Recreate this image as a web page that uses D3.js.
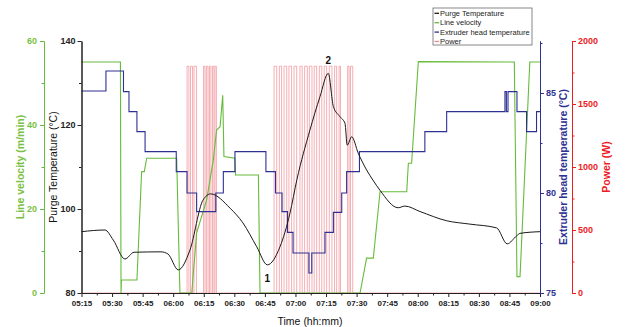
<!DOCTYPE html>
<html>
<head>
<meta charset="utf-8">
<script src="https://cdn.jsdelivr.net/npm/d3@7"></script>
<style>
  body { margin: 0; background: #fff; }
  svg { font-family: "Liberation Sans", Arial, sans-serif; }
</style>
</head>
<body>
<svg id="chart" width="625" height="327"></svg>
<script>
// purge temperature (°C)
const purgeTimes = ["05:15","05:26.5","05:30.6","05:36.3","05:40.8","05:54","05:57.4","06:02.5","06:08.2","06:14.6","06:18.4",
  "06:27.9","06:34.2","06:41","06:46.2","06:52.4","06:57.3","07:00.7","07:07.1","07:12","07:16.1","07:18.6","07:21.8",
  "07:24.3","07:25.4","07:27.6","07:30.8","07:34.9","07:38","07:41.4","07:50.4","07:53.7","08:01.1","08:14.2","08:25.6",
  "08:38.7","08:43.9","08:48.5","08:50.2","09:00"];
const purgeValues = [94.6,95.0,92.6,88.1,89.7,89.8,89.3,85.5,90.2,102.1,103.6,
  100.2,96.7,91.0,86.7,91.0,99.0,107.0,118.8,126.7,132.3,124.4,122.0,
  120.4,115.2,117.2,113.3,109.3,106.9,104.5,100.3,100.7,99.4,97.2,96.4,
  95.5,91.7,93.6,94.2,94.6];

// line velocity (m/min)
const velTimes = ["05:15","05:34.1","05:34.4","05:34.6","05:42.2","05:44.5","05:45.8","05:47","06:01.7","06:03.3","06:09.1",
  "06:11.5","06:16.4","06:19.7","06:21.3","06:23","06:24.3","06:24.9","06:30.3","06:30.6","06:41.8","06:42.6","07:31.7",
  "07:34.9","07:38.2","07:41.5","07:54.6","07:55.4","07:57","08:00.3","08:47.4","08:48.7","08:50.2","08:55","09:00"];
const velValues = [55,55,0,3.1,3.1,28.9,28.9,32.1,32.1,0,0,
  14.3,22.1,31.7,38.8,39.6,47.1,32.5,32.1,28.1,28.1,0,0,
  8.3,8.3,24.1,24.1,30.9,30.9,55.1,55,3.9,3.9,55,55];

// extruder head temperature (°C), stepped
const extTimes = ["05:15","05:27","05:35.6","05:38.3","05:42.2","05:46.2","06:01.5","06:06.8","06:11.5","06:20.9","06:24.6",
  "06:30.3","06:45.5","06:50.2","06:53.4","06:56.1","06:58.8","07:06.6","07:08","07:14.5","07:18.6","07:22.7","07:25.1",
  "07:31.4","08:03.5","08:14.2","08:42.8","08:43.5","08:44.3","08:48.7","08:53.4","08:58.3","09:00"];
const extValues = [85.1,86.1,85.07,84.07,83.07,82.07,81.07,80.0,79.07,80.0,81.07,
  82.07,81.07,80.0,79.07,78.03,77.0,76.0,77.0,78.03,79.03,80.0,81.07,
  82.07,83.07,84.07,85.07,84.07,85.07,84.07,83.07,84.07,84.07];

// power (W), switching times
const powerTimes = ["05:15","06:06.8","06:07.7","06:08.5","06:09.5","06:10.2","06:11.4","06:14.9","06:15.6","06:16.3","06:17.1",
  "06:17.8","06:18.5","06:19.3","06:20","06:20.5","06:21.2",
  "06:49.5","06:50.8","06:52.1","06:53.2","06:54.4","06:55.7","06:56.8","06:58.1","06:59.3","07:00.6","07:02.2","07:03.3",
  "07:04.5","07:05.8","07:06.8","07:08.1","07:09.2","07:10.4","07:11.7","07:12.9","07:14.1","07:15.3","07:16.6","07:17.9",
  "07:19.2","07:20.2","07:21.4","07:22.1","07:25.6","07:26.3","07:27","07:28.1","09:00"];
const powerValues = [0,1800,0,1800,0,1800,0,1800,0,1800,0,
  1800,0,1800,0,1800,0,
  1800,0,1800,0,1800,0,1800,0,1800,0,1800,0,
  1800,0,1800,0,1800,0,1800,0,1800,0,1800,0,
  1800,0,1800,0,1800,0,1800,0,0];

const legendNames = ["Purge Temperature","Line velocity","Extruder head temperature","Power"];
const purgeTicks = [80,100,120,140], purgeMinor = [90,110,130];
const velTicks = [0,20,40,60], velMinor = [10,30,50];
const extTicks = [75,80,85], extMinor = [77.5,82.5,87.5];
const powerTicks = [0,500,1000,1500,2000], powerMinor = [250,750,1250,1750];

const colBlack = "#1a1a1a", colGreen = "#66bb3c", colBlue = "#2e3192", colRed = "#ed1c24";
const colGreenText = "#7ac143", colPower = "#f08890";

function t(s) {
  const [h, m] = s.split(":");
  return new Date(2000, 0, 1, +h, 0, 0, Math.round(+m * 60000));
}

const svg = d3.select("#chart");
const L = 81.5, R = 540, T = 41, B = 293;

const x = d3.scaleTime().domain([t("05:15"), t("09:00")]).range([L, R]);
const yPurge = d3.scaleLinear().domain([80, 140]).range([B, T]);
const yVel = d3.scaleLinear().domain([0, 60]).range([B, T]);
const yExt = d3.scaleLinear().domain([75, 87.6]).range([B, T]);
const yPow = d3.scaleLinear().domain([0, 2000]).range([B, T]);

function series(times, values) {
  return times.map((s, i) => ({ t: t(s), v: values[i] }));
}

// lines
const pow = series(powerTimes, powerValues);
svg.append("path")
  .attr("d", d3.line().x(d => x(d.t)).y(d => yPow(d.v)).curve(d3.curveStepAfter)(pow))
  .attr("fill", "none").attr("stroke", colPower).attr("stroke-width", 0.8).attr("stroke-opacity", 0.85);

const vel = series(velTimes, velValues);
svg.append("path")
  .attr("d", d3.line().x(d => x(d.t)).y(d => yVel(d.v))(vel))
  .attr("fill", "none").attr("stroke", colGreen).attr("stroke-width", 1.1);

const ext = series(extTimes, extValues);
svg.append("path")
  .attr("d", d3.line().x(d => x(d.t)).y(d => yExt(d.v)).curve(d3.curveStepAfter)(ext))
  .attr("fill", "none").attr("stroke", colBlue).attr("stroke-width", 1.1);

const purge = series(purgeTimes, purgeValues);
svg.append("path")
  .attr("d", d3.line().x(d => x(d.t)).y(d => yPurge(d.v)).curve(d3.curveMonotoneX)(purge))
  .attr("fill", "none").attr("stroke", colBlack).attr("stroke-width", 1);

// axes
function styleAxis(g, color, textColor, size) {
  g.selectAll("path, line").attr("stroke", color).attr("stroke-width", 1);
  g.selectAll("text").attr("fill", textColor).style("font-size", size + "px").style("font-weight", "bold");
}

// x axis
const xMajor = d3.timeMinute.every(15).range(t("05:15"), t("09:00.1"));
const xMinor = xMajor.slice(0, -1).map(d => new Date(+d + 7.5 * 60000));
svg.append("g").attr("transform", `translate(0,${B})`)
  .call(d3.axisBottom(x).tickValues(xMajor).tickFormat(d3.timeFormat("%H:%M")).tickSize(4).tickSizeOuter(0).tickPadding(3))
  .call(g => styleAxis(g, "#222", "#222", 8));
svg.append("g").attr("transform", `translate(0,${B})`)
  .call(d3.axisBottom(x).tickValues(xMinor).tickFormat("").tickSize(2.5).tickSizeOuter(0))
  .call(g => styleAxis(g, "#222", "#222", 8));

// purge temp axis
svg.append("g").attr("transform", `translate(${L},0)`)
  .call(d3.axisLeft(yPurge).tickValues(purgeTicks).tickSize(4).tickSizeOuter(0).tickPadding(2))
  .call(g => styleAxis(g, "#222", "#222", 9));
svg.append("g").attr("transform", `translate(${L},0)`)
  .call(d3.axisLeft(yPurge).tickValues(purgeMinor).tickFormat("").tickSize(2.5).tickSizeOuter(0))
  .call(g => styleAxis(g, "#222", "#222", 9));

// line velocity axis
svg.append("g").attr("transform", "translate(44,0)")
  .call(d3.axisLeft(yVel).tickValues(velTicks).tickSize(4).tickSizeOuter(0).tickPadding(3))
  .call(g => styleAxis(g, colGreen, colGreenText, 9));
svg.append("g").attr("transform", "translate(44,0)")
  .call(d3.axisLeft(yVel).tickValues(velMinor).tickFormat("").tickSize(2.5).tickSizeOuter(0))
  .call(g => styleAxis(g, colGreen, colGreenText, 9));

// extruder axis
svg.append("g").attr("transform", `translate(${R},0)`)
  .call(d3.axisRight(yExt).tickValues(extTicks).tickSize(4).tickSizeOuter(0).tickPadding(2))
  .call(g => styleAxis(g, colBlue, colBlue, 9));
svg.append("g").attr("transform", `translate(${R},0)`)
  .call(d3.axisRight(yExt).tickValues(extMinor).tickFormat("").tickSize(2.5).tickSizeOuter(0))
  .call(g => styleAxis(g, colBlue, colBlue, 9));

// power axis
svg.append("g").attr("transform", "translate(572,0)")
  .call(d3.axisRight(yPow).tickValues(powerTicks).tickFormat(d3.format("d")).tickSize(4).tickSizeOuter(0).tickPadding(2))
  .call(g => styleAxis(g, colRed, colRed, 9));
svg.append("g").attr("transform", "translate(572,0)")
  .call(d3.axisRight(yPow).tickValues(powerMinor).tickFormat("").tickSize(2.5).tickSizeOuter(0))
  .call(g => styleAxis(g, colRed, colRed, 9));

// axis titles
function vTitle(cx, cy, text, color, weight) {
  svg.append("text").attr("transform", `translate(${cx},${cy}) rotate(-90)`)
    .attr("text-anchor", "middle").attr("dominant-baseline", "central")
    .attr("fill", color).style("font-size", "10.5px").style("font-weight", weight).text(text);
}
vTitle(20, 167, "Line velocity (m/min)", colGreenText, "bold");
vTitle(53, 167, "Purge Temperature (°C)", "#111", "normal");
vTitle(563, 167, "Extruder head temperature (°C)", colBlue, "bold");
vTitle(606, 167, "Power (W)", colRed, "bold");

svg.append("text").attr("x", 310).attr("y", 325).attr("text-anchor", "middle")
  .attr("fill", "#111").style("font-size", "10.5px").text("Time (hh:mm)");

// point labels
svg.append("text").attr("x", x(t("06:46.2"))).attr("y", 282).attr("text-anchor", "middle")
  .style("font-size", "10px").style("font-weight", "bold").attr("fill", "#111").text("1");
svg.append("text").attr("x", x(t("07:16.1"))).attr("y", 64).attr("text-anchor", "middle")
  .style("font-size", "10px").style("font-weight", "bold").attr("fill", "#111").text("2");

// legend
const legendColors = [colBlack, colGreen, colBlue, colPower];
const lg = svg.append("g").attr("transform", "translate(433,8)");
lg.append("rect").attr("width", 99).attr("height", 37).attr("fill", "#fff").attr("stroke", "#555").attr("stroke-width", 0.7);
legendNames.forEach((name, i) => {
  const yy = 5.3 + i * 9.4;
  lg.append("line").attr("x1", 1.5).attr("x2", 6).attr("y1", yy).attr("y2", yy)
    .attr("stroke", legendColors[i]).attr("stroke-width", 1.3);
  lg.append("text").attr("x", 7).attr("y", yy).attr("dominant-baseline", "central")
    .style("font-size", "7.5px").attr("fill", "#222").text(name);
});
</script>
</body>
</html>
